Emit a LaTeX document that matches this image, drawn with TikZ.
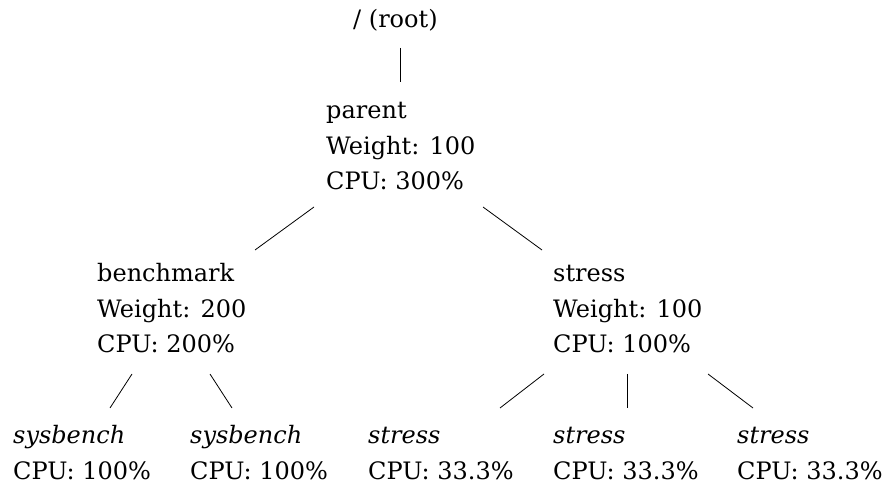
\documentclass[tikz,border=0pt]{standalone}
\usepackage{fontspec}
\setmainfont{DejaVu Serif}
\begin{document}
\begin{tikzpicture}[x=1pt,y=-1pt,
  block/.style={align=left, inner sep=0pt, anchor=base west,
    font=\fontsize{24}{35.5}\selectfont},
  edge/.style={line width=0.8pt}]
\useasboundingbox (0,0) rectangle (887,486);

% cgroup hierarchy (each node placed by the baseline of its last line)
\node[block] (root)   at (353,28)  {/ (root)};
\node[block] (parent) at (326,190) {parent\\Weight: 100\\CPU: 300\%};
\node[block] (bench)  at (97,353)  {benchmark\\Weight: 200\\CPU: 200\%};
\node[block] (stress) at (553,353) {stress\\Weight: 100\\CPU: 100\%};
\node[block] (sysA)   at (13,479)  {\textit{sysbench}\\CPU: 100\%};
\node[block] (sysB)   at (190,479) {\textit{sysbench}\\CPU: 100\%};
\node[block] (stA)    at (368,479) {\textit{stress}\\CPU: 33.3\%};
\node[block] (stB)    at (553,479) {\textit{stress}\\CPU: 33.3\%};
\node[block] (stC)    at (737,479) {\textit{stress}\\CPU: 33.3\%};

% tree edges
\draw[edge] ([shift={(47,20)}]root.base west) -- ([shift={(74,-108)}]parent.base west);
\draw[edge] ([shift={(-12,17)}]parent.base west) -- ([shift={(158,-103)}]bench.base west);
\draw[edge] ([shift={(157,17)}]parent.base west) -- ([shift={(-11,-103)}]stress.base west);
\draw[edge] ([shift={(35,21)}]bench.base west) -- ([shift={(97,-71)}]sysA.base west);
\draw[edge] ([shift={(113,21)}]bench.base west) -- ([shift={(42,-71)}]sysB.base west);
\draw[edge] ([shift={(-9,21)}]stress.base west) -- ([shift={(132,-71)}]stA.base west);
\draw[edge] ([shift={(74,21)}]stress.base west) -- ([shift={(74,-71)}]stB.base west);
\draw[edge] ([shift={(155,21)}]stress.base west) -- ([shift={(16,-71)}]stC.base west);
\end{tikzpicture}
\end{document}
